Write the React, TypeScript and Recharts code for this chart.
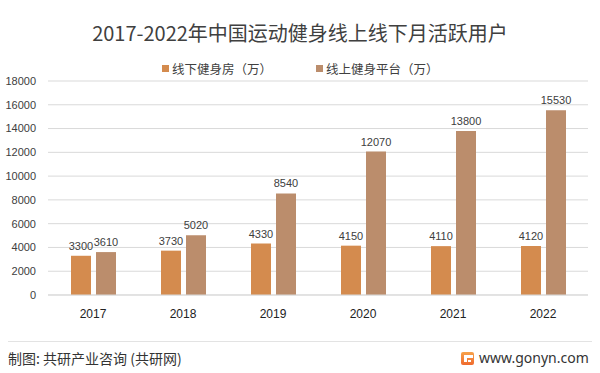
import React from 'react';
import { BarChart, Bar, XAxis, YAxis, CartesianGrid, LabelList } from 'recharts';

const years = ['2017', '2018', '2019', '2020', '2021', '2022'];
const offlineGym = [3300, 3730, 4330, 4150, 4110, 4120];
const onlinePlatform = [3610, 5020, 8540, 12070, 13800, 15530];
const yTicks = [0, 2000, 4000, 6000, 8000, 10000, 12000, 14000, 16000, 18000];

const seriesNames = ['线下健身房（万）', '线上健身平台（万）'];
const colors = ['#D48B4E', '#BB8D6C'];

const data = years.map((y, i) => ({ year: y, offline: offlineGym[i], online: onlinePlatform[i] }));

const numFont = '"Liberation Sans", "Noto Sans CJK SC", sans-serif';
const cjkFont = '"Noto Sans CJK SC", "Noto Sans", sans-serif';

export default function App() {
  return (
    <div style={{ position: 'absolute', left: 0, top: 0, width: 600, height: 373, background: '#fff', overflow: 'hidden', fontFamily: cjkFont }}>
      <div style={{ position: 'absolute', left: 0, top: 19, width: 600, textAlign: 'center', fontSize: 20, lineHeight: '28px', color: '#404040', fontFamily: cjkFont }}>
        2017-2022年中国运动健身线上线下月活跃用户
      </div>
      <div style={{ position: 'absolute', left: 162, top: 59, height: 18, display: 'flex', alignItems: 'center', fontSize: 12.5, color: '#404040' }}>
        <span style={{ display: 'inline-block', width: 7, height: 7, background: colors[0], marginRight: 3 }} />
        <span>{seriesNames[0]}</span>
      </div>
      <div style={{ position: 'absolute', left: 316, top: 59, height: 18, display: 'flex', alignItems: 'center', fontSize: 12.5, color: '#404040' }}>
        <span style={{ display: 'inline-block', width: 7, height: 7, background: colors[1], marginRight: 3 }} />
        <span>{seriesNames[1]}</span>
      </div>
      <div style={{ position: 'absolute', left: 0, top: 0 }}>
        <BarChart width={600} height={373} data={data} margin={{ top: 81, right: 12, left: 0, bottom: 48 }} barSize={20} barGap={5}>
          <CartesianGrid vertical={false} stroke="#d9d9d9" />
          <XAxis dataKey="year" height={30} axisLine={{ stroke: '#d9d9d9' }} tickLine={false} tickMargin={8}
            tick={{ fontSize: 12, fill: '#222', fontFamily: numFont }} interval={0} />
          <YAxis width={48} domain={[0, 18000]} ticks={yTicks} axisLine={false} tickLine={false} tickMargin={6}
            tick={{ fontSize: 11, fill: '#404040', fontFamily: numFont }} />
          <Bar dataKey="offline" name={seriesNames[0]} fill={colors[0]} isAnimationActive={false}>
            <LabelList dataKey="offline" position="top" offset={6} style={{ fontSize: 11, fill: '#404040', fontFamily: numFont }} />
          </Bar>
          <Bar dataKey="online" name={seriesNames[1]} fill={colors[1]} isAnimationActive={false}>
            <LabelList dataKey="online" position="top" offset={6} style={{ fontSize: 11, fill: '#404040', fontFamily: numFont }} />
          </Bar>
        </BarChart>
      </div>
      <div style={{ position: 'absolute', left: 8, top: 341, width: 584, height: 1, background: '#e3e3e3' }} />
      <div style={{ position: 'absolute', left: 8, top: 348, fontSize: 14, lineHeight: '20px', color: '#333', fontFamily: cjkFont }}>
        制图: 共研产业咨询 (共研网)
      </div>
      <svg style={{ position: 'absolute', left: 461, top: 352 }} width={13} height={13}>
        <defs>
          <linearGradient id="lg" x1="0" y1="0" x2="0" y2="1">
            <stop offset="0" stopColor="#F7A24A" />
            <stop offset="1" stopColor="#EF6A2E" />
          </linearGradient>
        </defs>
        <rect x={0} y={0} width={13} height={13} rx={2} fill="url(#lg)" />
        <rect x={3} y={3} width={9} height={3} fill="#fff" />
        <rect x={3} y={6} width={3} height={4} fill="#fff" />
        <rect x={7} y={8} width={3} height={2} fill="#fff" />
      </svg>
      <div style={{ position: 'absolute', left: 479, top: 348, fontSize: 14, lineHeight: '20px', color: '#333', fontFamily: '"Noto Sans", sans-serif' }}>
        www.gonyn.com
      </div>
    </div>
  );
}
